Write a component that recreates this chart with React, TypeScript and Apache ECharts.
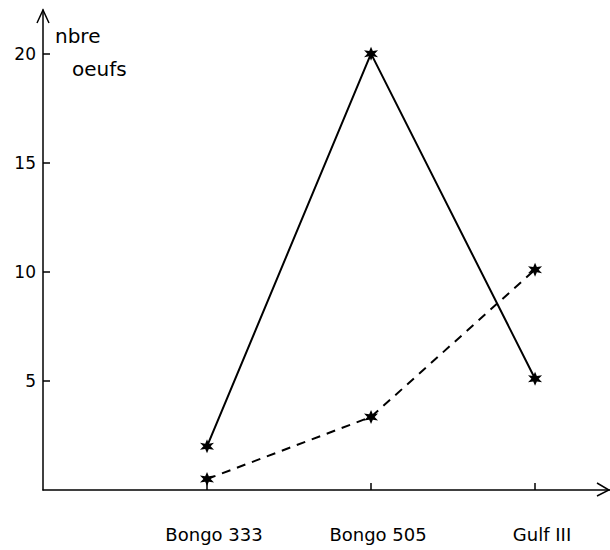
import React, { useEffect, useRef } from "react";
import * as echarts from "echarts";

const categories = ["Bongo 333", "Bongo 505", "Gulf III"];
const solidValues = [2, 20, 5.1];
const dashedValues = [0.5, 3.35, 10.1];
const yTickValues = [5, 10, 15, 20];
const xTickValues = [1, 2, 3];

const STAR =
  "path://M10,0 L12.25,6.1 L18.66,5 L14.5,10 L18.66,15 L12.25,13.9 L10,20 L7.75,13.9 L1.34,15 L5.5,10 L1.34,5 L7.75,6.1 Z";

export default function App() {
  const ref = useRef<HTMLDivElement>(null);
  useEffect(() => {
    if (!ref.current) return;
    const chart = echarts.init(ref.current, null, { renderer: "svg" });
    const toPoints = (vals: number[]) => vals.map((v, i) => [xTickValues[i], v]);
    chart.setOption({
      animation: false,
      backgroundColor: "#ffffff",
      grid: { left: 43, right: 0, top: 10, bottom: 60, containLabel: false, outerBoundsMode: "none" },
      xAxis: {
        type: "value",
        min: 0,
        max: 3.457,
        interval: 1,
        splitLine: { show: false },
        axisLine: { show: true, lineStyle: { color: "#000", width: 1.5 } },
        axisTick: { show: true, inside: true, length: 7, customValues: xTickValues, lineStyle: { color: "#000", width: 1.5 } },
        axisLabel: {
          customValues: xTickValues,
          formatter: (v: number) => categories[Math.round(v) - 1] ?? "",
          color: "#000",
          fontFamily: "DejaVu Sans",
          fontSize: 18,
          margin: 35,
          padding: [0, 0, 0, 14],
        },
      },
      yAxis: {
        type: "value",
        min: 0,
        max: 22,
        interval: 5,
        splitLine: { show: false },
        axisLine: { show: true, lineStyle: { color: "#000", width: 1.5 } },
        axisTick: { show: true, inside: true, length: 7, customValues: yTickValues, lineStyle: { color: "#000", width: 1.5 } },
        axisLabel: {
          customValues: yTickValues,
          color: "#000",
          fontFamily: "DejaVu Sans",
          fontSize: 17,
          margin: 7,
        },
      },
      series: [
        {
          type: "line",
          data: toPoints(solidValues),
          symbol: STAR,
          symbolSize: 14,
          lineStyle: { color: "#000", width: 2, type: "solid" },
          itemStyle: { color: "#000" },
        },
        {
          type: "line",
          data: toPoints(dashedValues),
          symbol: STAR,
          symbolSize: 14,
          lineStyle: { color: "#000", width: 2, type: [9, 7] },
          itemStyle: { color: "#000" },
        },
      ],
      graphic: [
        {
          type: "polyline",
          shape: { points: [[37, 23], [43, 10], [49, 23]] },
          style: { stroke: "#000", lineWidth: 1.5, fill: "none" },
        },
        {
          type: "polyline",
          shape: { points: [[597, 483], [609, 490], [597, 496]] },
          style: { stroke: "#000", lineWidth: 1.5, fill: "none" },
        },
        {
          type: "text",
          x: 55,
          y: 36,
          style: { text: "nbre", fill: "#000", font: "20px 'DejaVu Sans'", textVerticalAlign: "middle" },
        },
        {
          type: "text",
          x: 72,
          y: 69,
          style: { text: "oeufs", fill: "#000", font: "20px 'DejaVu Sans'", textVerticalAlign: "middle" },
        },
      ],
    });
    return () => chart.dispose();
  }, []);
  return (
    <div
      ref={ref}
      style={{ position: "fixed", left: 0, top: 0, width: 610, height: 550 }}
    />
  );
}
